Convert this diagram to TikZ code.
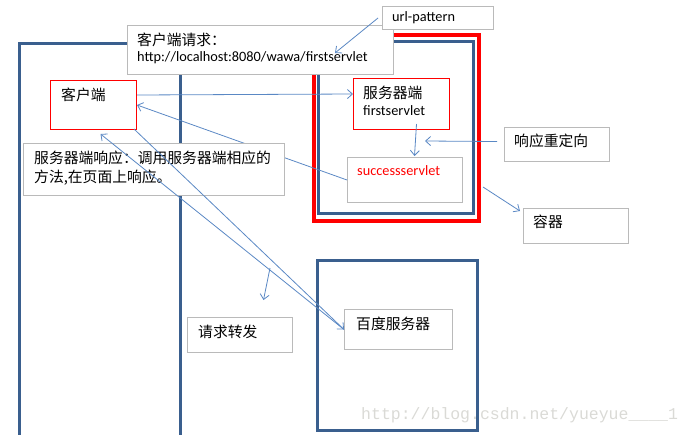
\documentclass[tikz,border=0pt]{standalone}
\usepackage{fontspec}
\setmainfont{Carlito}
\newfontfamily\cjk{Noto Sans CJK SC}
\newfontfamily\wmfont{Liberation Mono}
\usetikzlibrary{arrows.meta}
\definecolor{frameblue}{HTML}{3A5F8E}
\definecolor{arrblue}{HTML}{5A88C4}
\definecolor{boxgray}{HTML}{BABABA}
\definecolor{wmgray}{HTML}{DADAD6}
\tikzset{
  gbox/.style={draw=boxgray, line width=1pt, fill=white, anchor=north west, inner sep=0pt},
  rbox/.style={draw=red, line width=1pt, fill=white, anchor=north west, inner sep=0pt},
  frame/.style={draw=frameblue, line width=3pt},
  redframe/.style={draw=red, line width=3.5pt},
  arr/.style={draw=arrblue, line width=0.8pt, -{Straight Barb[length=5pt,width=9pt]}},
  cn/.style={font=\cjk\fontsize{14.8}{16}\selectfont, anchor=west, inner sep=0pt},
  lt/.style={font=\fontsize{14.3}{16}\selectfont, anchor=west, inner sep=0pt},
}
\begin{document}
\begin{tikzpicture}[x=1pt,y=-1pt]
\useasboundingbox (0,0) rectangle (692,434);
\clip (0,0) rectangle (692,434);
% frames
\draw[frame] (19,440) -- (19,43) -- (180,43) -- (180,440);
\draw[redframe] (314,35) rectangle (479,221);
\draw[frame] (318,41) rectangle (473,213);
\draw[frame] (317,260) rectangle (477,430);
% boxes whose connector runs behind another box
\node[gbox, minimum width=115pt, minimum height=45pt] (success) at (347,157) {};
\node[rbox, minimum width=86pt, minimum height=49pt] (client) at (50,80) {};
\draw[arr] (success.west) -- (client.east);
% boxes
\node[gbox, minimum width=266pt, minimum height=49pt] (req) at (127,25) {};
\node[gbox, minimum width=111pt, minimum height=23pt] (url) at (382,6) {};
\node[rbox, minimum width=96pt, minimum height=51pt] (server) at (353,78) {};
\node[gbox, minimum width=105pt, minimum height=34pt] (redirect) at (504,127) {};
\node[gbox, minimum width=105pt, minimum height=35pt] (container) at (523,208) {};
\node[gbox, minimum width=261pt, minimum height=52pt] (resp) at (23,143) {};
\node[gbox, minimum width=105pt, minimum height=35pt] (forward) at (187,317) {};
\node[gbox, minimum width=108pt, minimum height=40pt] (baidu) at (344,309) {};
% texts
\node[cn] (treq1) at (137,40) {客户端请求：};
\node[lt] (treq2) at (137,58) {http://localhost:8080/wawa/firstservlet};
\node[lt] (turl) at (392,18) {url-pattern};
\node[cn] (tserver1) at (363,93) {服务器端};
\node[lt] (tserver2) at (363,111) {firstservlet};
\node[lt, text=red] (tsuccess) at (357,171) {successservlet};
\node[cn] (tredirect) at (514,141) {响应重定向};
\node[cn] (tcontainer) at (533,222) {容器};
\node[cn] (tclient) at (61,95) {客户端};
\node[cn] (tresp1) at (34,158) {服务器端响应：调用服务器端相应的};
\node[cn] (tresp2) at (34,178) {方法,在页面上响应。};
\node[cn] (tforward) at (198,332) {请求转发};
\node[cn] (tbaidu) at (356,324) {百度服务器};
\node[font=\wmfont\fontsize{16.5}{18}\selectfont, text=wmgray, anchor=west, inner sep=0pt] (wm) at (361,415) {http://blog.csdn.net/yueyue\_\_\_\_1};
% coordinates for free ends
\coordinate (urlend) at (335,53);
\coordinate (redirend) at (425,141);
\coordinate (contstart) at (483,187);
\coordinate (fstart) at (270,268);
% connectors
\draw[arr] ([yshift=10pt]client.east) -- ([yshift=10pt]server.west);
\draw[arr] ([xshift=-4pt]url.west) -- (urlend);
\draw[arr] ([xshift=15pt,yshift=6pt]server.south) -- ([xshift=9.5pt,yshift=1pt]success.north);
\draw[arr] ([xshift=-7pt,yshift=3pt]redirect.west) -- (redirend);
\draw[arr] (contstart) -- ([xshift=-3pt,yshift=-3pt]container.north west);
\draw[arr] ([xshift=-3pt,yshift=1pt]client.south east) -- (baidu.west);
\draw[arr] (baidu.west) -- ([xshift=7pt,yshift=-4pt]client.south);
\draw[arr] (fstart) -- ([xshift=23.5pt,yshift=17pt]forward.north);
\end{tikzpicture}
\end{document}
